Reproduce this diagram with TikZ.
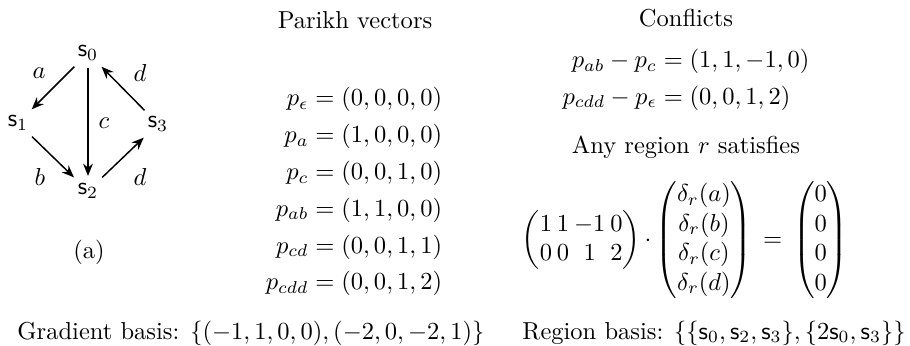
\documentclass[tikz,border=0pt]{standalone}
\usepackage{amsmath}
\usetikzlibrary{arrows.meta}
\begin{document}
\begin{tikzpicture}[x=0.408pt,y=-0.408pt,
  st/.style={inner sep=1pt},
  lbl/.style={inner sep=0pt},
  txt/.style={inner sep=0pt},
  arr/.style={-{Stealth[length=5pt,width=4pt]}, semithick, shorten >=2pt, shorten <=2pt}]
\useasboundingbox (0,0) rectangle (910,345);
% graph
\node[st] (s0) at (88,53) {$\mathsf{s}_0$};
\node[st] (s1) at (18,123) {$\mathsf{s}_1$};
\node[st] (s3) at (158,124) {$\mathsf{s}_3$};
\node[st] (s2) at (88,191) {$\mathsf{s}_2$};
\draw[arr] (s0) -- (s1);
\draw[arr] (s0) -- (s2);
\draw[arr] (s1) -- (s2);
\draw[arr] (s2) -- (s3);
\draw[arr] (s3) -- (s0);
\node[lbl] (la) at (39,73) {$a$};
\node[lbl] (ld1) at (140,73) {$d$};
\node[lbl] (lc) at (104,123) {$c$};
\node[lbl] (lb) at (40,177) {$b$};
\node[lbl] (ld2) at (140,177) {$d$};
\node[txt] (cap) at (89,252) {(a)};
% Parikh vectors
\node[txt] (ph) at (355,20) {Parikh vectors};
\node[txt] (pv) at (354,192) {$\begin{aligned}
p_\epsilon &= (0,0,0,0)\\
p_a &= (1,0,0,0)\\
p_c &= (0,0,1,0)\\
p_{ab} &= (1,1,0,0)\\
p_{cd} &= (0,0,1,1)\\
p_{cdd} &= (0,0,1,2)
\end{aligned}$};
% Conflicts
\node[txt] (ch) at (686,18) {Conflicts};
\node[txt] (cf) at (686,80) {$\begin{aligned}
p_{ab}-p_c &= (1,1,-1,0)\\
p_{cdd}-p_\epsilon &= (0,0,1,2)
\end{aligned}$};
\node[txt] (ar) at (686,147) {Any region $r$ satisfies};
\node[txt] (me) at (685,240) {$\left(\arraycolsep=1pt\begin{matrix}1&1&-1&0\\0&0&1&2\end{matrix}\right){\cdot}
\begin{pmatrix}\delta_r(a)\\\delta_r(b)\\\delta_r(c)\\\delta_r(d)\end{pmatrix}
\,=\,\begin{pmatrix}0\\0\\0\\0\end{pmatrix}$};
% bases
\node[txt,anchor=west] (gb) at (17,333) {Gradient basis: $\{(-1,1,0,0),(-2,0,-2,1)\}$};
\node[txt] (rb) at (714,333) {Region basis: $\{\{\mathsf{s}_0,\mathsf{s}_2,\mathsf{s}_3\},\{2\mathsf{s}_0,\mathsf{s}_3\}\}$};
\end{tikzpicture}
\end{document}
